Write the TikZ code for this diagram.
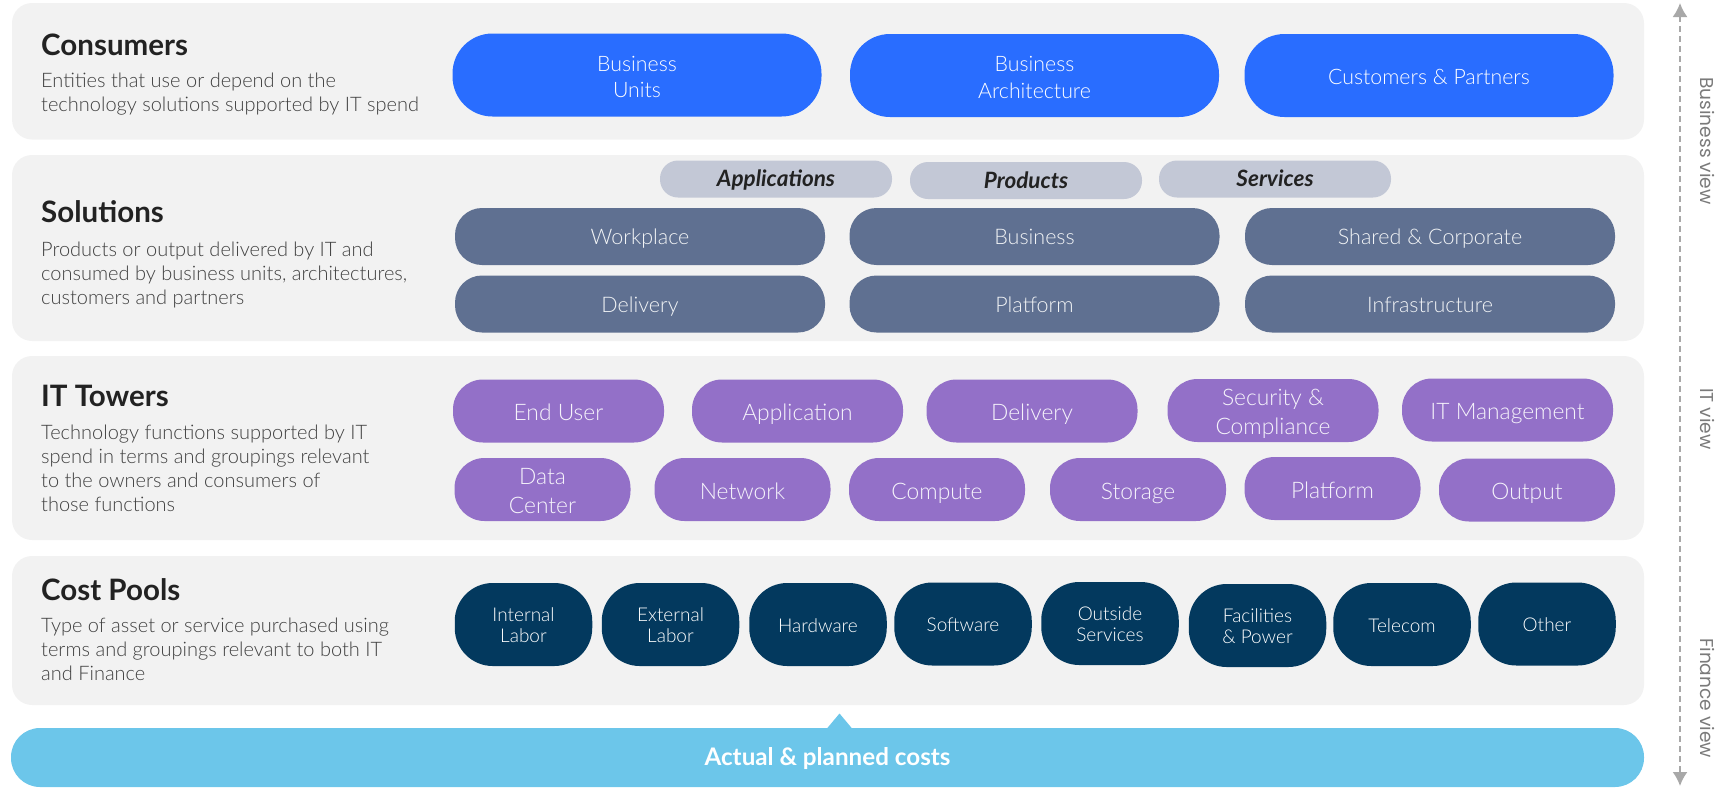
\documentclass[tikz,border=0pt]{standalone}
\usepackage{fontspec}
\setmainfont{Lato}
\IfFontExistsTF{Lato Light}{\newfontfamily\lightfont{Lato Light}}{\newfontfamily\lightfont{Lato}}
\newfontfamily\viewfont{Poppins}
\usetikzlibrary{arrows.meta}
\definecolor{bandgray}{HTML}{F2F2F2}
\definecolor{consblue}{HTML}{296DFF}
\definecolor{solgray}{HTML}{5F7091}
\definecolor{taggray}{HTML}{C3C8D6}
\definecolor{itpurple}{HTML}{9370C8}
\definecolor{costnavy}{HTML}{03395E}
\definecolor{barblue}{HTML}{6CC6EA}
\definecolor{titlecol}{HTML}{222222}
\definecolor{bodycol}{HTML}{404040}
\definecolor{viewcol}{HTML}{7A7A7A}
\definecolor{arrowcol}{HTML}{A8A8A8}
\newcommand\pilldrop{0pt}
\newcommand\pillt[1]{\raisebox{-\pilldrop}[\height][\depth]{\begin{tabular}{@{}c@{}}#1\end{tabular}}}
\tikzset{
  band/.style={fill=bandgray, draw=none, rounded corners=20, inner sep=0},
  pill/.style={draw=none, inner sep=0, text=white},
  conspill/.style={pill, fill=consblue, minimum width=369, minimum height=83, rounded corners=40,
     font=\lightfont\fontsize{21.3}{26.6}\selectfont\def\pilldrop{4pt}},
  tagpill/.style={pill, fill=taggray, minimum width=232, minimum height=37, rounded corners=18,
     text=titlecol, font=\bfseries\itshape\fontsize{22.5}{26}\selectfont\def\pilldrop{2.5pt}},
  solpill/.style={pill, fill=solgray, minimum width=370, minimum height=57, rounded corners=27,
     text=white!92!solgray, font=\lightfont\fontsize{21.5}{26}\selectfont\def\pilldrop{3pt}},
  itpill/.style={pill, fill=itpurple, minimum height=63, rounded corners=30,
     text=white!92!itpurple, font=\lightfont\fontsize{22.8}{29.2}\selectfont\def\pilldrop{3.8pt}},
  itwide/.style={itpill, minimum width=211},
  itnarrow/.style={itpill, minimum width=176},
  costpill/.style={pill, fill=costnavy, minimum width=137.5, minimum height=83, rounded corners=38,
     font=\lightfont\fontsize{19}{20.8}\selectfont\def\pilldrop{3.5pt}},
  title/.style={anchor=base west, inner sep=0, text=titlecol, font=\bfseries\fontsize{29.5}{34}\selectfont},
  body/.style={anchor=north west, inner sep=0, align=left, text=bodycol, font=\lightfont\fontsize{20}{24}\selectfont},
  viewlabel/.style={rotate=-90, inner sep=0, text=viewcol, font=\viewfont\fontsize{18.6}{22}\selectfont},
}
\begin{document}
\begin{tikzpicture}[x=1pt,y=-1pt]
\useasboundingbox (0,0) rectangle (1723,788);
% bands
\node[band, minimum width=1632, minimum height=136.5] (bandcons) at (828,71.25) {};
\node[band, minimum width=1632, minimum height=186] (bandsol) at (828,248) {};
\node[band, minimum width=1632, minimum height=184] (bandit) at (828,448) {};
\node[band, minimum width=1632, minimum height=149] (bandcost) at (828,630.5) {};
% bottom bar with notch
\fill[barblue] (826.5,729) -- (839.5,713.5) -- (852.5,729) -- cycle;
\node[band, fill=barblue, rounded corners=29, minimum width=1633, minimum height=59] (bar) at (827.5,757.5) {};
\node[inner sep=0, text=white, font=\bfseries\fontsize{24.2}{28}\selectfont] (bartext) at (827.5,758.5) {Actual \& planned costs};
% left texts
\node[title] (tcons) at (41,55) {Consumers};
\node[body] (bcons) at (41,73) {Entities that use or depend on the\\technology solutions supported by IT spend};
\node[title] (tsol) at (41,222) {Solutions};
\node[body] (bsol) at (41,242) {Products or output delivered by IT and\\consumed by business units, architectures,\\customers and partners};
\node[title] (tit) at (41,406) {IT Towers};
\node[body] (bit) at (41,425) {Technology functions supported by IT\\spend in terms and groupings relevant\\to the owners and consumers of\\those functions};
\node[title] (tcost) at (41,600) {Cost Pools};
\node[body] (bcost) at (41,618) {Type of asset or service purchased using\\terms and groupings relevant to both IT\\and Finance};
% consumers
\node[conspill] (bu) at (637,75) {\pillt{Business\\Units}};
\node[conspill] (ba) at (1034.5,75.5) {\pillt{Business\\Architecture}};
\node[conspill] (cp) at (1429,75.5) {\pillt{Customers \& Partners}};
% solutions tags
\node[tagpill] (apps) at (776,179) {\pillt{Applications}};
\node[tagpill] (prods) at (1026,180.5) {\pillt{Products}};
\node[tagpill] (servs) at (1275,179) {\pillt{Services}};
% solutions
\node[solpill] (work) at (640,236.5) {\pillt{Workplace}};
\node[solpill] (busi) at (1034.5,236.5) {\pillt{Business}};
\node[solpill] (shared) at (1430,236.5) {\pillt{Shared \& Corporate}};
\node[solpill] (deliv) at (640,304) {\pillt{Delivery}};
\node[solpill] (plat) at (1034.5,304) {\pillt{Platform}};
\node[solpill] (infra) at (1430,304) {\pillt{Infrastructure}};
% IT towers
\node[itwide] (enduser) at (558.5,411) {\pillt{End User}};
\node[itwide] (appl) at (797.5,411) {\pillt{Application}};
\node[itwide] (itdel) at (1032,411) {\pillt{Delivery}};
\node[itwide] (secur) at (1273,410.5) {\pillt{Security \&\\Compliance}};
\node[itwide] (itmgmt) at (1507.5,410) {\pillt{IT Management}};
\node[itnarrow] (dc) at (542.5,489.5) {\pillt{Data\\Center}};
\node[itnarrow] (net) at (742.5,489.5) {\pillt{Network}};
\node[itnarrow] (comp) at (937,489.5) {\pillt{Compute}};
\node[itnarrow] (stor) at (1138,489.5) {\pillt{Storage}};
\node[itnarrow] (itplat) at (1332.5,488.5) {\pillt{Platform}};
\node[itnarrow] (outp) at (1527,490) {\pillt{Output}};
% cost pools
\node[costpill] (intl) at (523.5,624.5) {\pillt{Internal\\Labor}};
\node[costpill] (extl) at (670.5,624.5) {\pillt{External\\Labor}};
\node[costpill] (hw) at (818,624.5) {\pillt{Hardware}};
\node[costpill] (sw) at (963,624) {\pillt{Software}};
\node[costpill] (outs) at (1110,623.5) {\pillt{Outside\\Services}};
\node[costpill] (fac) at (1257.5,625.5) {\pillt{Facilities\\\& Power}};
\node[costpill] (tel) at (1402,624.5) {\pillt{Telecom}};
\node[costpill] (oth) at (1547,624) {\pillt{Other}};
% view arrow
\coordinate (atop) at (1680,3);
\coordinate (abot) at (1680,786);
\draw[arrowcol, line width=2, dash pattern=on 6 off 4,
  {Latex[length=14,width=15]}-{Latex[length=14,width=15]}] (atop) -- (abot);
\node[viewlabel] (bview) at (1707,141) {Business view};
\node[viewlabel] (iview) at (1707,419) {IT view};
\node[viewlabel] (fview) at (1707,698) {Finance view};
\end{tikzpicture}
\end{document}
